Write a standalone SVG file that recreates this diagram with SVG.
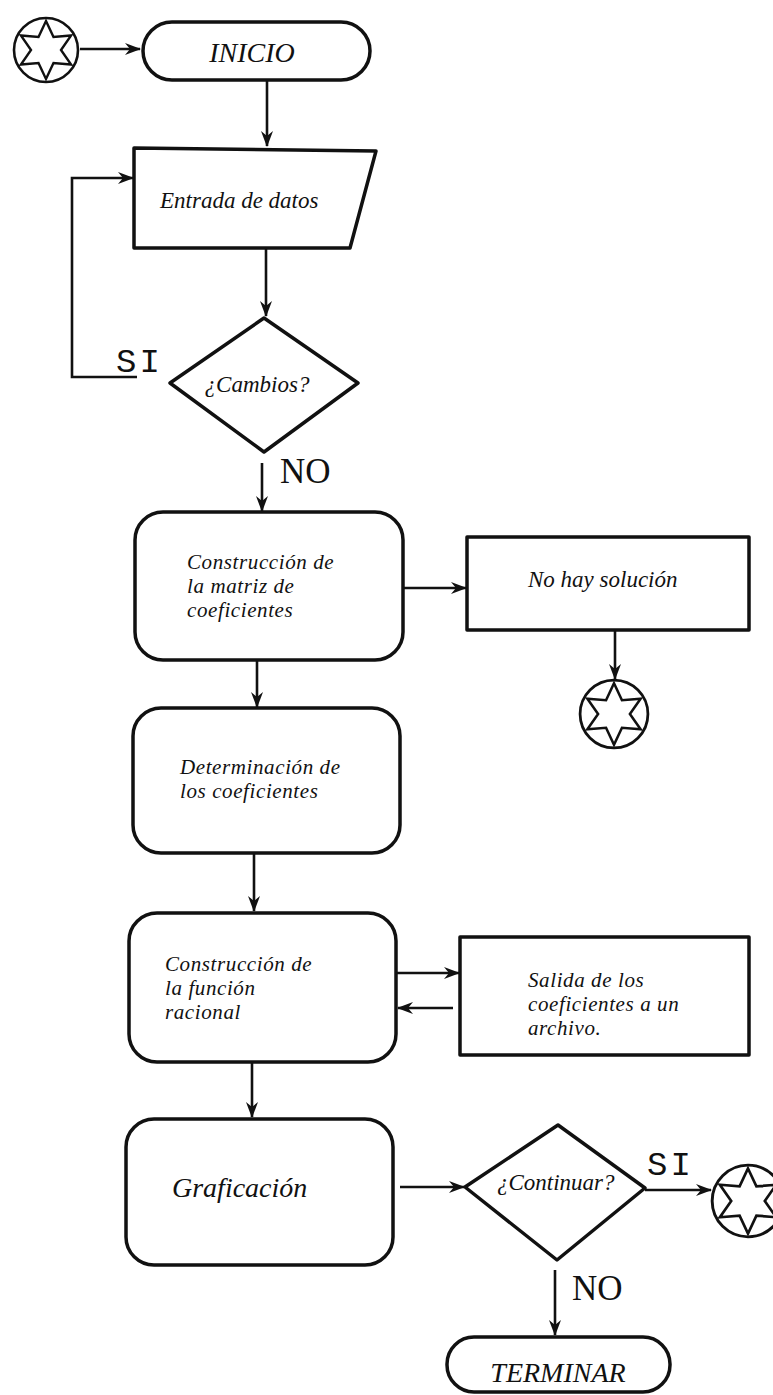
<svg xmlns="http://www.w3.org/2000/svg" xmlns:xlink="http://www.w3.org/1999/xlink" width="773" height="1395" viewBox="0 0 773 1395">
<style>
.box{fill:#fff;stroke:#111;stroke-width:3.5;stroke-linejoin:round}
.conn{fill:none;stroke:#111;stroke-width:2.6}
.t{font-family:"Liberation Serif","Times New Roman",serif;font-style:italic;font-size:23px;fill:#111}
.m{font-size:21px;letter-spacing:0.6px}
.big{font-size:28px}
.lab{font-family:"Liberation Serif","Times New Roman",serif;font-size:35px;fill:#111}
.mono{font-family:"Liberation Mono","Courier New",monospace;font-size:34px;fill:#111;letter-spacing:3px}
.starc{fill:#fff;stroke:#111;stroke-width:2.6}
.starp{fill:none;stroke:#111;stroke-width:2.4;stroke-linejoin:miter}
</style>
<defs>
<marker id="arr" markerUnits="userSpaceOnUse" markerWidth="16" markerHeight="12" refX="15" refY="6" orient="auto">
<path d="M0,0 L16,6 L0,12 L5,6 Z" fill="#111"/>
</marker>
<g id="star">
<circle class="starc" r="32"/>
<polygon class="starp" points="0,-29 7.5,-13 25.1,-14.5 15,0 25.1,14.5 7.5,13 0,29 -7.5,13 -25.1,14.5 -15,0 -25.1,-14.5 -7.5,-13"/>
</g>
</defs>

<g id="connectors">
<path class="conn" d="M80,49 L140,49" marker-end="url(#arr)"/>
<path class="conn" d="M267,80 L267,146" marker-end="url(#arr)"/>
<path class="conn" d="M266,248 L266,316" marker-end="url(#arr)"/>
<path class="conn" d="M137,377 L72,377 L72,178 L133,178" marker-end="url(#arr)"/>
<path class="conn" d="M262,463 L262,511" marker-end="url(#arr)"/>
<path class="conn" d="M403,588 L466,588" marker-end="url(#arr)"/>
<path class="conn" d="M615,630 L615,679" marker-end="url(#arr)"/>
<path class="conn" d="M257,660 L257,707" marker-end="url(#arr)"/>
<path class="conn" d="M254,853 L254,911" marker-end="url(#arr)"/>
<path class="conn" d="M396,973 L459,973" marker-end="url(#arr)"/>
<path class="conn" d="M453,1008 L398,1008" marker-end="url(#arr)"/>
<path class="conn" d="M252,1062 L252,1117" marker-end="url(#arr)"/>
<path class="conn" d="M400,1187 L464,1187" marker-end="url(#arr)"/>
<path class="conn" d="M645,1190 L711,1190" marker-end="url(#arr)"/>
<path class="conn" d="M555,1270 L555,1335" marker-end="url(#arr)"/>
<text class="mono" x="116" y="372">SI</text>
<text class="lab" x="280" y="483">NO</text>
<text class="mono" x="647" y="1175">SI</text>
<text class="lab" x="572" y="1300">NO</text>
</g>

<g id="star-start"><use xlink:href="#star" href="#star" transform="translate(46,50)"/></g>

<g id="inicio">
<rect class="box" x="143" y="22" width="227" height="58" rx="29" ry="29"/>
<text class="t big" x="252" y="62" text-anchor="middle">INICIO</text>
</g>

<g id="entrada">
<polygon class="box" points="134,148 376,151 350,248 134,248"/>
<text class="t" x="160" y="208">Entrada de datos</text>
</g>

<g id="cambios">
<polygon class="box" points="264,318 358,383 264,452 170,383"/>
<text class="t" x="257" y="392" text-anchor="middle" font-size="25">¿Cambios?</text>
</g>

<g id="construccion-matriz">
<rect class="box" x="135" y="512" width="268" height="148" rx="28" ry="28"/>
<text class="t m" x="187" y="569">Construcción de</text>
<text class="t m" x="187" y="593">la matriz de</text>
<text class="t m" x="187" y="617">coeficientes</text>
</g>

<g id="no-hay">
<rect class="box" x="467" y="537" width="282" height="93"/>
<text class="t" x="528" y="587">No hay solución</text>
</g>

<g id="star-nohay"><use xlink:href="#star" href="#star" transform="translate(614,714) scale(1.06)"/></g>

<g id="determinacion">
<rect class="box" x="133" y="708" width="267" height="145" rx="28" ry="28"/>
<text class="t m" x="180" y="774">Determinación de</text>
<text class="t m" x="180" y="798">los coeficientes</text>
</g>

<g id="construccion-funcion">
<rect class="box" x="129" y="913" width="267" height="149" rx="28" ry="28"/>
<text class="t m" x="165" y="971">Construcción de</text>
<text class="t m" x="165" y="995">la función</text>
<text class="t m" x="165" y="1019">racional</text>
</g>

<g id="salida">
<rect class="box" x="460" y="937" width="289" height="118"/>
<text class="t m" x="528" y="987">Salida de los</text>
<text class="t m" x="528" y="1011">coeficientes a un</text>
<text class="t m" x="528" y="1035">archivo.</text>
</g>

<g id="graficacion">
<rect class="box" x="126" y="1119" width="267" height="146" rx="28" ry="28"/>
<text class="t big" x="172" y="1197">Graficación</text>
</g>

<g id="continuar">
<polygon class="box" points="558,1125 645,1188 557,1260 465,1187"/>
<text class="t" x="497" y="1190" font-size="25">¿Continuar?</text>
</g>

<g id="star-continuar"><use xlink:href="#star" href="#star" transform="translate(748,1201) scale(1.12)"/></g>

<g id="terminar">
<rect class="box" x="447" y="1337" width="223" height="55" rx="27" ry="27"/>
<text class="t big" x="558" y="1382" text-anchor="middle">TERMINAR</text>
</g>
</svg>
